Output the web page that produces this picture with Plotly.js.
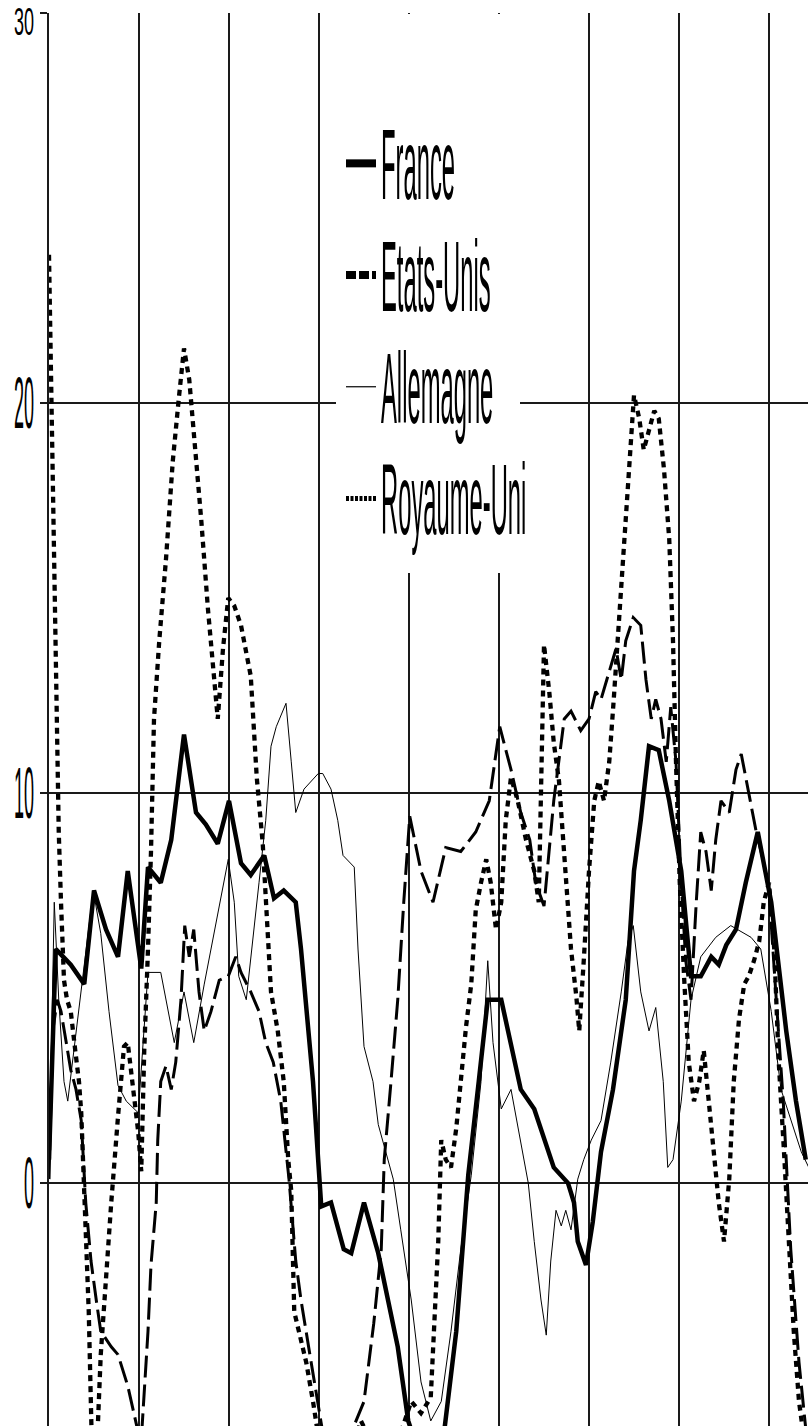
<!DOCTYPE html>
<html>
<head>
<meta charset="utf-8">
<script src="https://cdn.plot.ly/plotly-3.0.1.min.js"></script>
<style>
html,body{margin:0;padding:0;background:#fff;overflow:hidden}
#chart{width:808px;height:1426px}
</style>
</head>
<body>
<div id="chart"></div>
<script>
// ---- series names ----
const seriesNames = ['France', 'Etats-Unis', 'Allemagne', 'Royaume-Uni'];

// ---- x = months from start of visible period, y = value (%) ----
const franceMonths = [0,0.9,1.9,2.9,4.7,6,7.6,9.2,10.5,12.3,13.2,14.9,16.3,18,19.6,20.9,22.5,24,25.6,26.9,28.7,30,31.3,32.9,33.6,35.2,36.3,37.6,39.3,40.3,42,43.9,46.5,47.9,50.3,52.3,54.3,55.9,57.3,58.5,60.3,62.9,64.7,67.3,69.2,70,70.5,71.6,72.5,73.6,75.2,76.9,78,78.9,80,81.3,82.7,84.3,85.6,86.9,88.3,89.3,90.3,91.6,92.9,94.5,96.3,98.3,99.6,100.9];
const franceValues = [0.6,6.0,5.8,5.6,5.1,7.5,6.5,5.8,8.0,5.5,8.1,7.7,8.8,11.5,9.5,9.2,8.7,9.8,8.2,7.9,8.4,7.3,7.5,7.2,6.0,2.6,-0.6,-0.5,-1.7,-1.8,-0.5,-1.8,-4.2,-6.1,-7.5,-7.0,-3.8,0.2,2.6,4.7,4.7,2.4,1.9,0.4,0,-0.5,-1.5,-2.1,-1.0,0.8,2.4,4.7,8.0,9.3,11.2,11.1,9.8,8.0,5.3,5.3,5.8,5.6,6.1,6.5,7.7,9.0,7.2,3.9,2.1,0.6];

const usMonths = [0,0.3,0.5,0.8,1.1,1.3,1.6,2,2.4,2.9,3.5,4,4.3,4.8,5.3,5.7,6.3,6.9,7.6,8.3,9.2,10,10.5,11.2,11.9,12.3,12.7,13.2,13.6,14,14.7,15.6,16.5,17.3,18,18.7,19.3,20.3,21.2,22,22.5,23.2,23.9,24.7,25.6,26.9,27.7,28.5,29.1,29.6,30.5,31.3,31.9,32.3,32.7,33.3,34.3,35.2,36,38.3,40.3,41.6,42.9,44.9,46.9,48.3,49.6,50.9,51.9,52.3,52.9,53.6,54.3,54.9,55.6,56.3,56.9,57.6,58.3,58.9,59.6,60.3,60.9,61.6,62.5,63.6,64.7,65.3,66,66.7,67.3,68,68.7,69.2,69.6,70.3,70.7,71.3,72,72.7,73.3,74,74.7,75.3,76,76.7,77.3,78,78.7,79.3,80,80.7,81.3,82,82.7,83.2,83.6,84.1,84.7,85.3,86,86.7,87.3,88,88.7,89.3,90,90.7,91.3,92,92.7,93.3,94,94.7,95.3,96,96.7,97.3,98,98.7,99.3,100,100.7,101.3];
const usValues = [23.8,20.6,17.5,13.9,11.3,9.0,7.2,5.2,4.7,4.4,3.4,2.6,1.8,-0.5,-3.3,-6.6,-7.2,-4.4,-2.3,-0.5,1.7,3.5,3.6,2.4,1.3,0.3,3.4,6.0,8.5,11.9,13.9,16.0,18.5,20.1,21.4,20.6,19.3,17.0,14.7,12.9,11.9,13.7,15.0,14.8,14.3,13.0,10.4,8.7,6.7,4.9,3.9,2.6,0.6,-0.2,-3.3,-3.8,-4.6,-5.6,-6.6,-7.4,-6.9,-6.1,-6.6,-7.4,-6.4,-5.6,-5.9,-5.5,-1.5,1.1,0.6,0.4,1.4,2.6,4.0,5.1,7.0,7.7,8.3,7.7,6.5,7.2,9.3,10.4,9.8,8.8,8.0,7.2,13.8,12.6,11.3,10.3,8.3,7.2,6.0,4.8,3.9,5.7,8.0,9.8,10.3,9.8,10.8,12.4,14.4,16.5,18.5,20.2,19.6,18.8,19.3,19.8,19.6,18.3,16.5,13.9,10.8,7.7,5.2,3.1,2.1,2.6,3.4,2.1,0.8,-0.5,-1.5,0.1,2.6,4.2,5.1,5.3,5.7,6.2,7.2,7.7,6.0,3.1,0.8,-1.7,-3.8,-5.6,-6.6,-7.1];

const deMonths = [0,0.7,1.3,2,2.5,3.3,4.3,5.9,6.9,8,9.2,10.3,11.9,12.4,13.2,14.9,16.7,18,19.3,20.7,22,23.2,23.9,24.7,25.3,26.3,26.9,28,28.9,29.6,30.3,31.6,32.3,32.9,34,34.9,35.9,36.5,37.6,38.5,39.2,40.7,41.2,42,43.2,43.9,44.9,45.9,46.9,48.3,49.6,50.9,52.3,53.6,54.9,56.3,57.6,58.5,59.2,60.3,61.6,63.9,64.7,65.6,66.3,66.9,67.6,68.3,68.9,69.6,70.5,71.3,72.3,73.6,74.9,76.3,77.2,77.9,78.9,80,80.9,81.9,82.5,83.2,84.3,85.6,86.9,88.9,90.9,93.6,94.9,96.3,97.6,98.9,100.3,101.3];
const deValues = [0.2,7.2,4.7,2.6,2.1,3.4,5.0,7.5,6.4,4.4,2.5,2.1,1.8,3.1,5.4,5.4,3.6,4.9,3.6,5.1,6.4,7.6,8.3,7.2,5.3,4.7,5.7,7.7,9.3,11.2,11.7,12.3,10.8,9.5,10.1,10.3,10.5,10.5,10.1,9.3,8.4,8.1,6.0,3.5,2.6,1.5,0.8,0.1,-1.2,-3.0,-5.1,-6.1,-5.6,-3.8,-1.7,0.2,2.6,5.7,3.6,1.9,2.4,0,-1.5,-3.0,-3.9,-2.0,-0.7,-1.1,-0.7,-1.2,0.1,0.6,1.1,1.6,3.1,4.9,6.2,6.6,4.9,3.9,4.5,2.6,0.4,0.6,2.1,4.7,5.8,6.3,6.6,6.3,6.0,4.4,2.4,1.6,0.8,0.4];

const ukMonths = [0,0.5,1.1,1.6,2.3,2.9,3.6,4.3,4.9,5.6,6.3,6.9,8.3,9.2,10.5,11.9,12.3,13.2,13.6,14.3,14.5,14.9,15.6,16.3,16.9,17.6,18.1,18.7,19.3,20,20.7,21.6,22.7,23.9,24.9,25.6,26.9,28,28.9,29.9,30.9,32,32.9,33.6,34.7,35.6,36.5,38.3,40.3,42,43.3,44.3,44.7,45.6,46.5,47.3,48.1,49.6,51.2,52.9,54.9,56.9,58.7,60.1,61.6,62.9,64.1,64.9,66,67.3,68.7,69.6,70.9,72,72.9,73.6,74.7,75.6,76.3,76.9,77.9,78.9,79.6,80.3,80.9,81.6,82.3,82.9,83.6,84.3,84.9,85.6,86.3,86.9,87.6,88.3,88.9,89.6,90.7,91.6,92.3,93.2,94.3,95.2,96,96.9,97.9,98.9,100,100.9];
const ukValues = [0.1,3.9,4.7,4.4,3.6,2.9,2.4,1.6,-0.5,-2.0,-3.0,-3.8,-4.2,-4.4,-5.2,-6.4,-6.6,-3.8,-2.1,-0.5,1.1,2.6,3.0,2.4,3.1,4.7,6.6,5.8,6.5,4.9,3.9,4.4,5.2,5.3,5.8,5.4,4.9,4.4,3.6,3.1,2.1,0.1,-2.0,-3.0,-4.3,-5.3,-6.4,-7.1,-6.4,-5.6,-3.6,-1.7,0.6,2.6,4.7,7.2,9.4,8.0,7.2,8.6,8.5,9.0,9.8,11.7,10.6,9.5,8.8,7.7,7.1,9.8,11.9,12.1,11.6,11.9,12.6,12.4,13.1,13.7,12.9,13.9,14.5,14.3,12.9,11.9,12.4,11.9,10.8,12.2,10.8,7.7,5.7,4.7,7.2,9.0,8.5,7.5,8.8,9.8,9.5,10.6,11.0,10.1,9.0,8.3,7.5,4.9,2.1,-1.7,-4.6,-6.3];

// ---- axis ticks ----
const yTickValues = [0, 10, 20, 30];
const yTickLabels = ['0', '10', '20', '30'];
const xGridStep = 12;

const FONT = '"Liberation Sans", Arial, sans-serif';

const styles = [
  {width: 4.5, dash: 'solid'},
  {width: 4.3, dash: '6px,5px'},
  {width: 1, dash: 'solid'},
  {width: 3, dash: '22px,7px'}
];
const legendStyles = [
  {width: 8, dash: 'solid'},
  {width: 8, dash: '10px,3px'},
  {width: 1.2, dash: 'solid'},
  {width: 5, dash: '3px,1.5px'}
];
const xs = [franceMonths, usMonths, deMonths, ukMonths];
const ys = [franceValues, usValues, deValues, ukValues];

const traces = [];
seriesNames.forEach((name, i) => {
  traces.push({
    type: 'scatter', mode: 'lines', name: name,
    x: xs[i], y: ys[i], showlegend: false,
    line: {color: '#000', width: styles[i].width, dash: styles[i].dash},
    hoverinfo: 'skip'
  });
});
seriesNames.forEach((name, i) => {
  traces.push({
    type: 'scatter', mode: 'lines', name: name, legendgroup: 'g' + i,
    x: [null], y: [null], showlegend: true,
    line: {color: '#000', width: legendStyles[i].width, dash: legendStyles[i].dash}
  });
});

const W = 808, H = 1426, ML = 49, MT = 13;
const plotW = W - ML, plotH = H - MT;
const toPaperY = py => 1 - (py - MT) / plotH;
const toPaperX = px => (px - ML) / plotW;

const layout = {
  width: W, height: H,
  margin: {l: ML, r: 0, t: MT, b: 0, pad: 0},
  paper_bgcolor: '#fff', plot_bgcolor: '#fff',
  showlegend: true,
  legend: {
    x: toPaperX(341), xanchor: 'left', y: toPaperY(331), yanchor: 'middle',
    bgcolor: 'rgba(0,0,0,0)', borderwidth: 0,
    traceorder: 'grouped', tracegroupgap: 71,
    font: {family: FONT, size: 29, color: '#000'},
    itemclick: false, itemdoubleclick: false
  },
  xaxis: {
    range: [0, plotW / 7.5], tick0: 0, dtick: xGridStep,
    showgrid: true, gridcolor: '#1a1a1a', gridwidth: 1.6,
    zeroline: false, showline: false, showticklabels: false, ticks: '',
    automargin: false, fixedrange: true
  },
  yaxis: {
    range: [-6.23, 30], tickmode: 'array', tickvals: yTickValues, ticktext: yTickLabels,
    showgrid: true, gridcolor: '#1a1a1a', gridwidth: 1.6,
    zeroline: false, showline: true, linecolor: '#1a1a1a', linewidth: 1.6,
    ticks: 'outside', ticklen: 7, tickwidth: 1.6, tickcolor: '#1a1a1a',
    tickfont: {family: FONT, size: 22, color: '#000'},
    ticklabelstandoff: 2,
    automargin: false, fixedrange: true
  },
  shapes: [{
    type: 'rect', xref: 'paper', yref: 'paper', layer: 'above',
    x0: toPaperX(336), x1: toPaperX(520), y0: toPaperY(573), y1: toPaperY(14),
    fillcolor: '#fff', line: {width: 0}
  }]
};

// Condensed, tall lettering of the original (narrow font drawn tall)
function stretchEl(el, kx, ky, anchorRight, dy) {
  const cur = el.getAttribute('transform') || '';
  if (el.getAttribute('data-applied') === cur && cur !== '') return;
  const bb = el.getBBox();
  const cy = bb.y + bb.height / 2;
  const ax = anchorRight ? bb.x + bb.width : bb.x;
  const applied = cur + ' translate(' + ax + ',' + (cy + (dy || 0)) + ') scale(' + kx + ',' + ky + ') translate(' + (-ax) + ',' + (-cy) + ')';
  el.setAttribute('transform', applied);
  el.setAttribute('data-applied', applied);
}
function applyStretch() {
  document.querySelectorAll('#chart .legend [clip-path]').forEach(el => el.removeAttribute('clip-path'));
  document.querySelectorAll('#chart .legendtext').forEach(el => stretchEl(el, 0.82, 3.45, false, 0));
  document.querySelectorAll('#chart .ytick text').forEach(el => {
    if (el.textContent.trim() === '30') stretchEl(el, 0.82, 1.75, true, 9);
    else stretchEl(el, 0.82, 3.3, true, 0);
  });
}

Plotly.newPlot('chart', traces, layout, {staticPlot: true, displayModeBar: false}).then(() => {
  applyStretch();
  [50, 200, 450, 800, 1500].forEach(t => setTimeout(applyStretch, t));
});
</script>
</body>
</html>
